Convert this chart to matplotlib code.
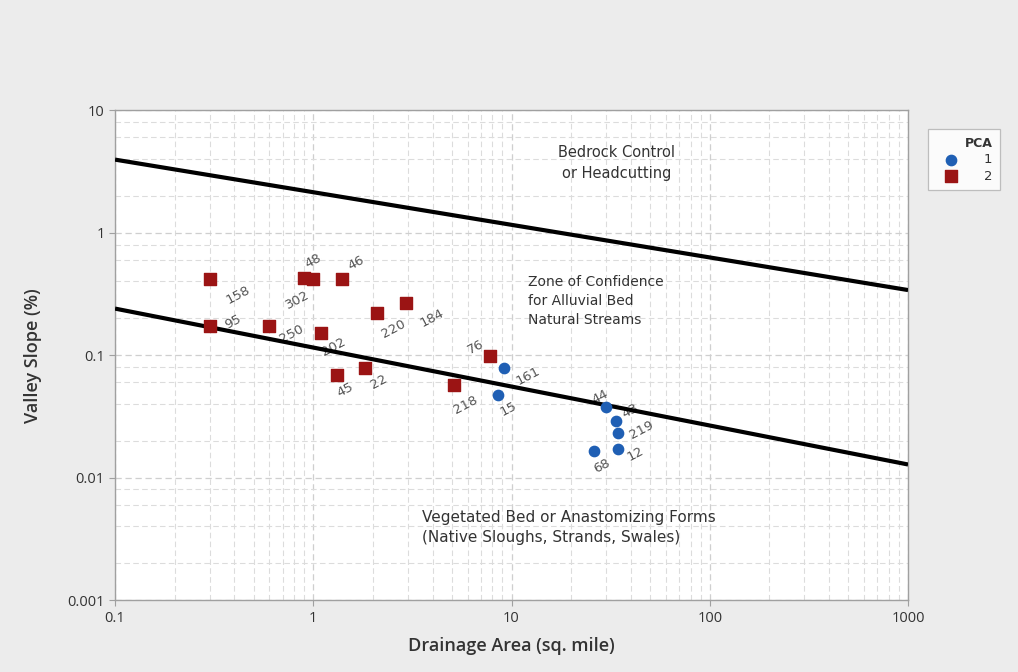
import numpy as np
import matplotlib
matplotlib.use("Agg")
import matplotlib.pyplot as plt
from matplotlib.ticker import LogLocator, NullFormatter, FixedLocator, FixedFormatter

# PCA group 1 (blue circles)
pca1_ids = ["161", "15", "44", "43", "219", "12", "68"]
pca1_area = [9.2, 8.5, 30.0, 33.5, 34.5, 34.5, 26.0]
pca1_slope = [0.078, 0.047, 0.038, 0.029, 0.023, 0.017, 0.0165]

# PCA group 2 (red squares)
pca2_ids = ["158", "95", "250", "302", "48", "46", "202", "45", "22", "220", "184", "76", "218"]
pca2_area = [0.3, 0.3, 0.6, 0.9, 1.0, 1.4, 1.1, 1.32, 1.82, 2.1, 2.94, 7.8, 5.1]
pca2_slope = [0.42, 0.172, 0.172, 0.43, 0.42, 0.42, 0.152, 0.069, 0.078, 0.22, 0.265, 0.098, 0.057]

# boundary lines (endpoints at area 0.1 and 1000)
line_area = [0.1, 1000]
upper_slope = [3.95, 0.34]
lower_slope = [0.24, 0.0128]

# label offsets in pixels (dx, dy) for each point
pca1_off = [(24, -8), (11, -14), (-6, 10), (15, 10), (23, 3), (17, -5), (8, -15)]
pca2_off = [(28, -16), (23, 4), (22, -8), (-7, -22), (0, 18), (14, 16), (12, -14),
            (8, -15), (14, -14), (16, -16), (26, -15), (-14, 9), (12, -20)]

fig = plt.figure(figsize=(10.18, 6.72), dpi=100, facecolor="#ececec")
ax = fig.add_axes([0.113, 0.107, 0.779, 0.729])
ax.set_facecolor("white")
ax.set_xscale("log")
ax.set_yscale("log")
ax.set_xlim(0.1, 1000)
ax.set_ylim(0.001, 10)

ax.xaxis.set_major_locator(FixedLocator([0.1, 1, 10, 100, 1000]))
ax.xaxis.set_major_formatter(FixedFormatter(["0.1", "1", "10", "100", "1000"]))
ax.xaxis.set_minor_locator(LogLocator(base=10, subs=np.arange(2, 10)))
ax.xaxis.set_minor_formatter(NullFormatter())
ax.yaxis.set_major_locator(FixedLocator([0.001, 0.01, 0.1, 1, 10]))
ax.yaxis.set_major_formatter(FixedFormatter(["0.001", "0.01", "0.1", "1", "10"]))
ax.yaxis.set_minor_locator(LogLocator(base=10, subs=[2, 4, 6, 8]))
ax.yaxis.set_minor_formatter(NullFormatter())

ax.grid(which="major", color="#cfcfcf", linestyle=(0, (5, 3)), linewidth=0.9)
ax.grid(which="minor", color="#dcdcdc", linestyle=(0, (5, 3)), linewidth=0.8)
ax.set_axisbelow(True)

for s in ax.spines.values():
    s.set_color("#a0a0a0")
    s.set_linewidth(1.0)
ax.tick_params(which="major", length=4, color="#a0a0a0", labelsize=10.5, labelcolor="#333333")
ax.tick_params(which="minor", length=0)
for lab in ax.get_xticklabels() + ax.get_yticklabels():
    lab.set_family("Open Sans")

ax.plot(line_area, upper_slope, color="black", linewidth=3, solid_capstyle="butt", zorder=3)
ax.plot(line_area, lower_slope, color="black", linewidth=3, solid_capstyle="butt", zorder=3)

ax.scatter(pca1_area, pca1_slope, marker="o", s=55, color="#1f5fb4", zorder=4, label="1")
ax.scatter(pca2_area, pca2_slope, marker="s", s=70, color="#9b1414", zorder=4, label="2")

for ids, xs, ys, offs in [(pca1_ids, pca1_area, pca1_slope, pca1_off),
                          (pca2_ids, pca2_area, pca2_slope, pca2_off)]:
    for t, x, y, (dx, dy) in zip(ids, xs, ys, offs):
        ax.annotate(t, (x, y), xytext=(dx, dy), textcoords="offset pixels",
                    ha="center", va="center", rotation=28, fontsize=9.5,
                    color="#555555", zorder=2)

region_font = dict(color="#333333", linespacing=1.45, family="DejaVu Sans")
ax.text(34, 3.7, "Bedrock Control\nor Headcutting", ha="center", va="center",
        fontsize=10.5, **region_font)
ax.text(12.1, 0.275, "Zone of Confidence\nfor Alluvial Bed\nNatural Streams", ha="left", va="center",
        fontsize=10, **region_font)
ax.text(3.55, 0.0039, "Vegetated Bed or Anastomizing Forms\n(Native Sloughs, Strands, Swales)",
        ha="left", va="center", fontsize=11, **region_font)

ax.set_xlabel("Drainage Area (sq. mile)", fontsize=13, color="#333333", family="Open Sans",
              fontweight="semibold", labelpad=8)
ax.set_ylabel("Valley Slope (%)", fontsize=13, color="#333333", family="Open Sans",
              fontweight="semibold", labelpad=18)

leg = fig.legend(loc="upper left", bbox_to_anchor=(0.912, 0.808), title="PCA",
                 frameon=True, fancybox=False, edgecolor="#b0b0b0", fontsize=9.5,
                 title_fontsize=9, handletextpad=1.4, borderpad=0.6, labelspacing=0.25,
                 handlelength=2.2, alignment="right", borderaxespad=0)
leg.get_frame().set_linewidth(0.9)
leg.get_title().set_fontweight("bold")
leg.get_title().set_color("#333333")
for t in leg.get_texts():
    t.set_color("#333333")

fig.savefig("out.png", dpi=100, facecolor=fig.get_facecolor())
